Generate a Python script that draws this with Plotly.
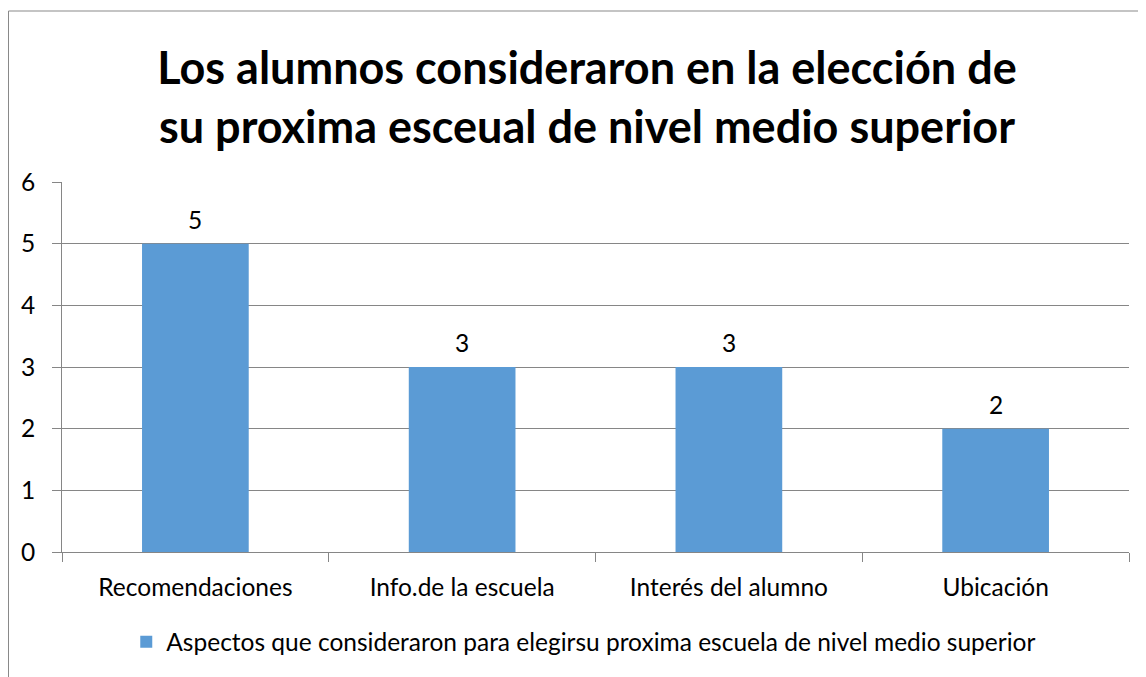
import plotly.graph_objects as go

categories = ["Recomendaciones", "Info.de la escuela", "Interés del alumno", "Ubicación"]
values = [5, 3, 3, 2]
series_name = "Aspectos que consideraron para elegirsu proxima escuela de nivel medio superior"
title_text = "Los alumnos consideraron en la elección de<br>su proxima esceual de nivel medio superior"

FONT = "Lato"
FS = 24.5
OFF = 8  # browser body margin

fig = go.Figure()
fig.add_trace(go.Bar(
    x=categories, y=values, name=series_name,
    marker=dict(color="#5B9BD5", line=dict(width=0)),
    showlegend=True,
))

for c, v in zip(categories, values):
    fig.add_annotation(x=c, y=v, text=str(v), showarrow=False, yanchor="bottom",
                       yshift=8, font=dict(family=FONT, size=FS, color="#000000"))

fig.update_layout(
    width=1146, height=677,
    margin=dict(l=62 - OFF, r=17 + OFF, t=182 - OFF, b=125 + OFF),
    paper_bgcolor="white", plot_bgcolor="white",
    bargap=0.6,
    font=dict(family=FONT, size=FS, color="#000000"),
    title=dict(text=title_text, x=(587 - OFF) / 1146, xref="container", xanchor="center",
               y=1 - (84 - OFF) / 677, yref="container", yanchor="middle",
               font=dict(family=FONT, size=45, color="#000000", weight="bold")),
    xaxis=dict(showline=True, linecolor="#868686", linewidth=1,
               ticks="outside", tickson="boundaries", ticklen=9, tickcolor="#868686",
               showgrid=False, ticklabelstandoff=14,
               tickfont=dict(family=FONT, size=FS, color="#000000")),
    yaxis=dict(range=[0, 6], dtick=1, showline=True, linecolor="#868686", linewidth=1,
               ticks="outside", ticklen=9, tickcolor="#868686",
               showgrid=True, gridcolor="#868686", gridwidth=1,
               zeroline=False, ticklabelstandoff=12,
               tickfont=dict(family=FONT, size=FS, color="#000000")),
    legend=dict(orientation="h", x=0.489, xanchor="center", y=-0.243, yanchor="middle",
                font=dict(family=FONT, size=FS, color="#000000")),
    shapes=[dict(type="rect", xref="paper", yref="paper",
                 x0=(8.5 - 62) / 1067, x1=(1160 - 62) / 1067,
                 y0=(552 - 700) / 370, y1=(552 - 11) / 370,
                 line=dict(color="#898989", width=1), fillcolor="rgba(0,0,0,0)", layer="below")],
)

fig.write_html("out.html")
